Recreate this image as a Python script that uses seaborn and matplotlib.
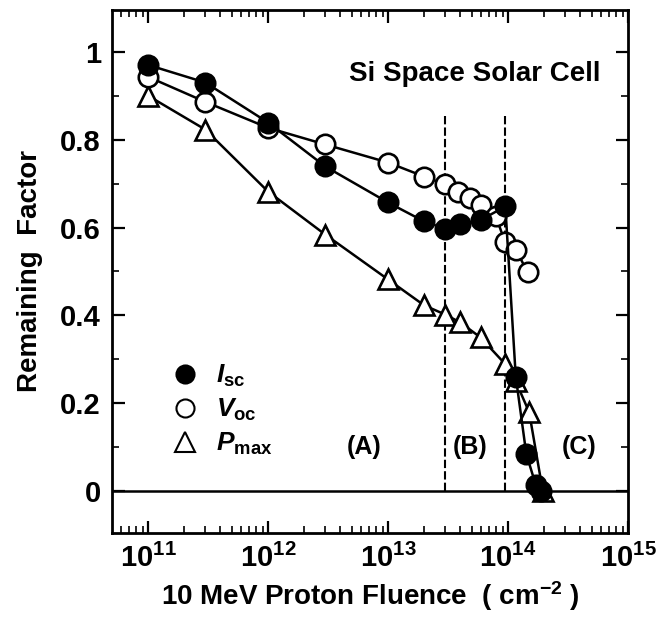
import numpy as np
import matplotlib
matplotlib.use("Agg")
import matplotlib.pyplot as plt
import seaborn as sns
from matplotlib.lines import Line2D
from matplotlib.ticker import LogLocator, MultipleLocator, FuncFormatter, NullFormatter, FixedLocator

# ---- data ----
isc_fluence = [1e11, 3e11, 1e12, 3e12, 1e13, 2e13, 3e13, 4e13, 6e13, 9.5e13, 1.16e14, 1.42e14, 1.7e14, 1.88e14]
isc_values = [0.97, 0.93, 0.839, 0.739, 0.657, 0.614, 0.597, 0.607, 0.618, 0.648, 0.261, 0.085, 0.015, 0.0]

voc_fluence = [1e11, 3e11, 1e12, 3e12, 1e13, 2e13, 3e13, 3.85e13, 4.8e13, 5.9e13, 7.9e13, 9.4e13, 1.16e14, 1.46e14]
voc_values = [0.943, 0.886, 0.827, 0.789, 0.748, 0.716, 0.698, 0.68, 0.668, 0.652, 0.627, 0.568, 0.55, 0.498]

pmax_fluence = [1e11, 3e11, 1e12, 3e12, 1e13, 2e13, 3e13, 4e13, 5.9e13, 9.5e13, 1.16e14, 1.5e14, 1.95e14]
pmax_values = [0.90, 0.823, 0.682, 0.584, 0.482, 0.423, 0.402, 0.384, 0.35, 0.289, 0.25, 0.18, 0.0]

boundary_fluence = [3e13, 9.5e13]
boundary_top = 0.86

region_labels = ["(A)", "(B)", "(C)"]
region_x = [6.3e12, 4.8e13, 3.9e14]
region_y = 0.10

y_ticks = [0, 0.2, 0.4, 0.6, 0.8, 1.0]
x_decades = [11, 12, 13, 14, 15]

# ---- style ----
sns.set_theme(style="ticks")
plt.rcParams["font.family"] = ["Liberation Sans", "DejaVu Sans"]
plt.rcParams["font.weight"] = "bold"
plt.rcParams["axes.labelweight"] = "bold"
plt.rcParams["text.color"] = "black"
plt.rcParams["axes.labelcolor"] = "black"
plt.rcParams["xtick.color"] = "black"
plt.rcParams["ytick.color"] = "black"
plt.rcParams["mathtext.fontset"] = "custom"
plt.rcParams["mathtext.rm"] = "Liberation Sans:bold"
plt.rcParams["mathtext.bf"] = "Liberation Sans:bold"
plt.rcParams["mathtext.it"] = "Liberation Sans:italic:bold"
plt.rcParams["mathtext.default"] = "bf"

fig, ax = plt.subplots(figsize=(6.64, 6.25), dpi=100)
fig.subplots_adjust(left=0.1687, right=0.9458, bottom=0.1472, top=0.984)

ax.set_xscale("log")
ax.set_xlim(10 ** 10.7, 1e15)
ax.set_ylim(-0.095, 1.095)

# zero line and region boundaries
ax.axhline(0, color="black", lw=1.8, zorder=1)
ax.vlines(boundary_fluence, 0, boundary_top, colors="black", linestyles=(0, (4, 1.5)), lw=1.5, zorder=1)

line_kw = dict(color="black", lw=1.8, sort=False, estimator=None, ax=ax)
sns.lineplot(x=pmax_fluence, y=pmax_values, marker="^", markersize=14.5,
             markerfacecolor="white", markeredgecolor="black", markeredgewidth=1.9, zorder=3, **line_kw)
sns.lineplot(x=voc_fluence, y=voc_values, marker="o", markersize=14,
             markerfacecolor="white", markeredgecolor="black", markeredgewidth=1.9, zorder=4, **line_kw)
sns.lineplot(x=isc_fluence, y=isc_values, marker="o", markersize=14,
             markerfacecolor="black", markeredgecolor="black", markeredgewidth=1.9, zorder=5, **line_kw)

# text
ax.text(0.946, 0.878, "Si Space Solar Cell", transform=ax.transAxes, ha="right", va="center",
        fontsize=20, fontweight="bold", color="black")
for lab, xv in zip(region_labels, region_x):
    ax.text(xv, region_y, lab, ha="center", va="center", fontsize=18, fontweight="bold", color="black")

# legend
handles = [
    Line2D([], [], ls="none", marker="o", markersize=13, markerfacecolor="black", markeredgecolor="black", markeredgewidth=1.5),
    Line2D([], [], ls="none", marker="o", markersize=13, markerfacecolor="white", markeredgecolor="black", markeredgewidth=1.5),
    Line2D([], [], ls="none", marker="^", markersize=14, markerfacecolor="white", markeredgecolor="black", markeredgewidth=1.5),
]
labels = [r"$\mathit{I}_{\mathbf{sc}}$", r"$\mathit{V}_{\mathbf{oc}}$", r"$\mathit{P}_{\mathbf{max}}$"]
leg = ax.legend(handles, labels, loc="center left", bbox_to_anchor=(0.105, 0.235), frameon=False,
                fontsize=19, handlelength=1.4, handletextpad=0.5, labelspacing=0.3, borderpad=0,
                borderaxespad=0)
for t in leg.get_texts():
    t.set_color("black")

# axes, ticks
ax.set_xlabel(r"10 MeV Proton Fluence  ( cm$^{\mathbf{-2}}$ )", fontsize=20, labelpad=4, color="black")
ax.set_ylabel("Remaining  Factor", fontsize=20, labelpad=12, color="black")

ax.xaxis.set_major_locator(FixedLocator([10.0 ** d for d in x_decades]))
ax.xaxis.set_minor_locator(LogLocator(base=10, subs=np.arange(2, 10), numticks=20))
ax.xaxis.set_major_formatter(FuncFormatter(lambda v, p: r"$\mathbf{10^{%d}}$" % int(round(np.log10(v)))))
ax.xaxis.set_minor_formatter(NullFormatter())

ax.yaxis.set_major_locator(FixedLocator(y_ticks))
ax.yaxis.set_minor_locator(MultipleLocator(0.1))
ax.yaxis.set_major_formatter(FuncFormatter(lambda v, p: "%g" % v))

ax.tick_params(which="both", direction="in", top=True, right=True, colors="black")
ax.tick_params(which="major", length=9, width=1.6, labelsize=21, pad=8)
ax.tick_params(which="minor", length=5, width=1.2)
for lab in ax.get_xticklabels() + ax.get_yticklabels():
    lab.set_fontweight("bold")
    lab.set_color("black")

for s in ax.spines.values():
    s.set_linewidth(2.0)
    s.set_color("black")

fig.savefig("out.png", dpi=100)
